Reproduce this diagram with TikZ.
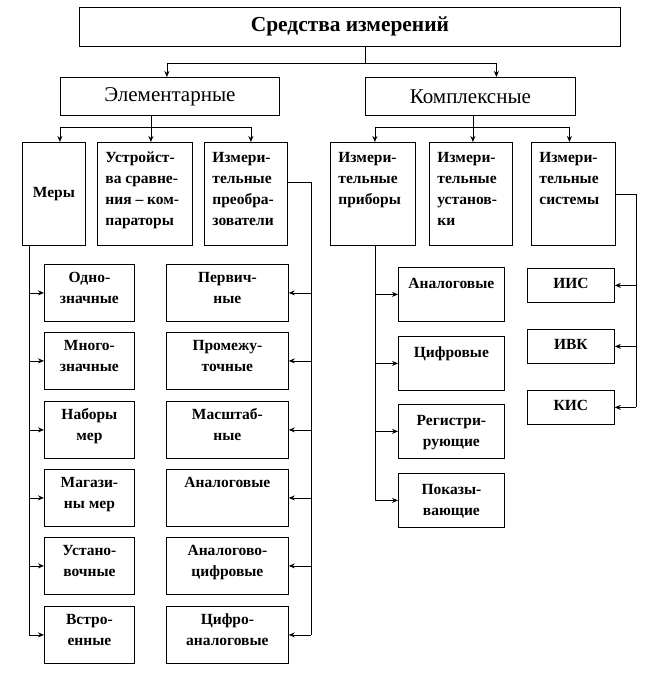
\documentclass[tikz,border=0pt]{standalone}
\usepackage{fontspec}
\setmainfont{Liberation Serif}
\usetikzlibrary{arrows.meta}
\tikzset{
  box/.style={draw, line width=0.8pt, inner sep=0pt, anchor=north west, fill=white},
  conn/.style={line width=0.8pt},
  arr/.style={line width=0.8pt, -{Stealth[length=6pt,width=5pt]}},
}
% top-aligned centred text: width, height, offset, lines
\newcommand\tcbox[4]{\parbox[c][#2pt][t]{#1pt}{\fontsize{15.5}{21}\selectfont\bfseries\centering\rule{0pt}{#3pt}#4\par}}
% top-aligned left text
\newcommand\tlbox[3]{\parbox[c][#2pt][t]{#1pt}{\fontsize{15.5}{21}\selectfont\bfseries\raggedright\leftskip=8pt\rule{0pt}{20pt}#3\par}}
\begin{document}
\begin{tikzpicture}[x=1pt,y=-1pt]
\useasboundingbox (0,0) rectangle (653,679);
% level 0 and 1
\node[box, minimum width=541pt, minimum height=39pt] (top) at (79,7) {\fontsize{21.4}{24}\selectfont\bfseries Средства измерений};
\node[box, minimum width=219pt, minimum height=38pt] (elem) at (60,77) {\fontsize{21}{24}\selectfont Элементарные};
\node[box, minimum width=210pt, minimum height=38pt] (kompl) at (365,77) {\fontsize{21}{24}\selectfont Комплексные};
% level 2
\node[box, minimum width=63pt, minimum height=103pt] (mery) at (22,142) {\fontsize{15.5}{21}\selectfont\bfseries Меры};
\node[box] (ustr) at (97,142) {\tlbox{95}{103}{Устройст-\\ва сравне-\\ния -- ком-\\параторы}};
\node[box] (preob) at (204,142) {\tlbox{83}{103}{Измери-\\тельные\\преобра-\\зователи}};
\node[box] (pribory) at (330,142) {\tlbox{85}{103}{Измери-\\тельные\\приборы}};
\node[box] (ustan) at (429,142) {\tlbox{83}{103}{Измери-\\тельные\\установ-\\ки}};
\node[box] (sist) at (531,142) {\tlbox{84}{103}{Измери-\\тельные\\системы}};
% measures
\node[box] (m1) at (44,264) {\tcbox{90}{57}{18}{Одно-\\значные}};
\node[box] (m2) at (44,332) {\tcbox{90}{57}{18}{Много-\\значные}};
\node[box] (m3) at (44,401) {\tcbox{90}{57}{18}{Наборы\\мер}};
\node[box] (m4) at (44,469) {\tcbox{90}{57}{18}{Магази-\\ны мер}};
\node[box] (m5) at (44,537) {\tcbox{90}{57}{18}{Устано-\\вочные}};
\node[box] (m6) at (44,606) {\tcbox{90}{57}{18}{Встро-\\енные}};
% converters
\node[box] (p1) at (166,264) {\tcbox{122}{57}{18}{Первич-\\ные}};
\node[box] (p2) at (166,332) {\tcbox{122}{57}{18}{Промежу-\\точные}};
\node[box] (p3) at (166,401) {\tcbox{122}{57}{18}{Масштаб-\\ные}};
\node[box] (p4) at (166,469) {\tcbox{122}{57}{18}{Аналоговые}};
\node[box] (p5) at (166,537) {\tcbox{122}{57}{18}{Аналогово-\\цифровые}};
\node[box] (p6) at (166,606) {\tcbox{122}{57}{18}{Цифро-\\аналоговые}};
% instruments
\node[box] (b1) at (398,267) {\tcbox{106}{54}{21}{Аналоговые}};
\node[box] (b2) at (398,336) {\tcbox{106}{54}{21}{Цифровые}};
\node[box] (b3) at (398,404) {\tcbox{106}{54}{21}{Регистри-\\рующие}};
\node[box] (b4) at (398,473) {\tcbox{106}{54}{21}{Показы-\\вающие}};
% systems
\node[box] (s1) at (527,268) {\tcbox{87}{34}{20}{ИИС}};
\node[box] (s2) at (527,329) {\tcbox{87}{34}{20}{ИВК}};
\node[box] (s3) at (527,390) {\tcbox{87}{34}{20}{КИС}};
% connectors level 0 -> 1
\coordinate (t1) at (365,63);
\draw[conn] (top.south -| t1) -- (t1);
\draw[conn] ([xshift=-3pt]elem.north |- t1) -- ([xshift=26pt]kompl.north |- t1);
\draw[arr] ([xshift=-3pt]elem.north |- t1) -- ([xshift=-3pt]elem.north);
\draw[arr] ([xshift=26pt]kompl.north |- t1) -- ([xshift=26pt]kompl.north);
% level 1 -> 2 (elementary)
\coordinate (e1) at (151,127);
\draw[conn] (elem.south -| e1) -- (e1);
\draw[conn] ([xshift=6pt]mery.north |- e1) -- ([xshift=5pt]preob.north |- e1);
\draw[arr] ([xshift=6pt]mery.north |- e1) -- ([xshift=6pt]mery.north);
\draw[arr] ([xshift=6pt]ustr.north |- e1) -- ([xshift=6pt]ustr.north);
\draw[arr] ([xshift=5pt]preob.north |- e1) -- ([xshift=5pt]preob.north);
% level 1 -> 2 (complex)
\coordinate (k1) at (473,127);
\draw[conn] (kompl.south -| k1) -- (k1);
\draw[conn] ([xshift=2pt]pribory.north |- k1) -- ([xshift=-4pt]sist.north |- k1);
\draw[arr] ([xshift=2pt]pribory.north |- k1) -- ([xshift=2pt]pribory.north);
\draw[arr] ([xshift=2pt]ustan.north |- k1) -- ([xshift=2pt]ustan.north);
\draw[arr] ([xshift=-4pt]sist.north |- k1) -- ([xshift=-4pt]sist.north);
% measures branch
\coordinate (mx) at (29,245);
\draw[conn] (mx) -- (mx |- m6.west);
\foreach \n in {m1,m2,m3,m4,m5,m6} \draw[arr] (mx |- \n.west) -- (\n.west);
% converters branch
\coordinate (px) at (311,182);
\draw[conn] (preob.east |- px) -- (px) -- (px |- p6.east);
\foreach \n in {p1,p2,p3,p4,p5,p6} \draw[arr] (px |- \n.east) -- (\n.east);
% instruments branch
\coordinate (bx) at (375,245);
\draw[conn] (bx) -- (bx |- b4.west);
\foreach \n in {b1,b2,b3,b4} \draw[arr] (bx |- \n.west) -- (\n.west);
% systems branch
\coordinate (sx) at (636,194);
\draw[conn] (sist.east |- sx) -- (sx) -- (sx |- s3.east);
\foreach \n in {s1,s2,s3} \draw[arr] (sx |- \n.east) -- (\n.east);
\end{tikzpicture}
\end{document}
